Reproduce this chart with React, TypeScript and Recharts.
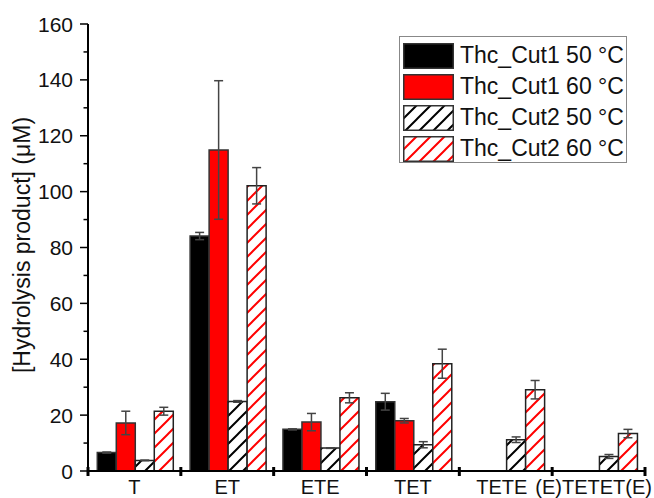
import React from "react";
import { BarChart, Bar, XAxis, YAxis, ErrorBar } from "recharts";

const categories = ["T", "ET", "ETE", "TET", "TETE", "(E)TETET(E)"];

const cut1At50 = [6.6, 84.1, 14.9, 24.8, 0, 0];
const cut1At50Err = [0.2, 1.3, 0.2, 3.0, 0, 0];
const cut1At60 = [17.2, 114.9, 17.5, 18.0, 0, 0];
const cut1At60Err = [4.2, 24.8, 3.1, 0.8, 0, 0];
const cut2At50 = [3.8, 24.9, 8.2, 9.4, 11.2, 5.2];
const cut2At50Err = [0.1, 0.3, 0.1, 1.1, 1.0, 0.7];
const cut2At60 = [21.4, 102.1, 26.2, 38.4, 29.1, 13.4];
const cut2At60Err = [1.4, 6.5, 1.8, 5.2, 3.3, 1.5];

const yTicks = [0, 10, 20, 30, 40, 50, 60, 70, 80, 90, 100, 110, 120, 130, 140, 150, 160];

const legendItems = [
  { label: "Thc_Cut1 50 °C", fill: "#000" },
  { label: "Thc_Cut1 60 °C", fill: "#ff0000" },
  { label: "Thc_Cut2 50 °C", fill: "url(#legBlack)" },
  { label: "Thc_Cut2 60 °C", fill: "url(#legRed)" },
];

const data = categories.map((name, i) => ({
  name,
  c150: cut1At50[i],
  c150e: cut1At50Err[i],
  c160: cut1At60[i],
  c160e: cut1At60Err[i],
  c250: cut2At50[i],
  c250e: cut2At50Err[i],
  c260: cut2At60[i],
  c260e: cut2At60Err[i],
}));

const FONT = 'Arial, "Liberation Sans", sans-serif';

// labels of the last two groups sit a little left of centre in the original
const labelShift = [0, 0, 0, 0, -4, -5];

const hatch = (id: string, color: string) => (
  <pattern id={id} patternUnits="userSpaceOnUse" width={14} height={14}>
    <rect width={14} height={14} fill="#fff" />
    <path
      d="M-3.5,3.5 L3.5,-3.5 M0,14 L14,0 M10.5,17.5 L17.5,10.5"
      stroke={color}
      strokeWidth={2}
    />
  </pattern>
);

const YTick = (props: any) => {
  const { x, y, payload } = props;
  const major = payload.value % 20 === 0;
  return (
    <g>
      <line x1={x - (major ? 8 : 4.5)} x2={x} y1={y} y2={y} stroke="#000" strokeWidth={1.5} />
      {major && (
        <text x={x - 15} y={y} dy={7.5} textAnchor="end" fontSize={21} fill="#111" fontFamily={FONT}>
          {payload.value}
        </text>
      )}
    </g>
  );
};

const XTick = (props: any) => {
  const { x, y, payload, index } = props;
  const half = payload.offset || 46.4;
  const last = index === categories.length - 1;
  return (
    <g>
      <line x1={x - half} x2={x - half} y1={y - 4} y2={y + 5} stroke="#000" strokeWidth={3} />
      {last && (
        <line x1={x + half} x2={x + half} y1={y - 4} y2={y + 5} stroke="#000" strokeWidth={3} />
      )}
      <text
        x={x + (labelShift[index] || 0)}
        y={y + 23}
        textAnchor="middle"
        fontSize={20}
        fill="#111"
        fontFamily={FONT}
      >
        {payload.value}
      </text>
    </g>
  );
};

const YLabel = () => (
  <text
    x={22}
    y={245}
    transform="rotate(-90, 22, 245)"
    textAnchor="middle"
    dominantBaseline="central"
    fontSize={23}
    fill="#111"
    fontFamily={FONT}
  >
    [Hydrolysis product] (μM)
  </text>
);

const Legend = () => (
  <div
    style={{
      position: "absolute",
      left: 399,
      top: 36,
      width: 228,
      height: 127,
      boxSizing: "border-box",
      border: "1px solid #888",
      background: "#fff",
      fontFamily: FONT,
    }}
  >
    <svg width={0} height={0} style={{ position: "absolute" }}>
      <defs>
        {hatch("legBlack", "#000")}
        {hatch("legRed", "#ff0000")}
      </defs>
    </svg>
    {legendItems.map((item, i) => (
      <div
        key={item.label}
        style={{ position: "absolute", left: 3, top: 6 + i * 31, height: 25, display: "flex", alignItems: "center" }}
      >
        <svg width={51} height={26}>
          <rect x={0.75} y={0.75} width={49.5} height={24.5} fill={item.fill} stroke="#333" strokeWidth={1.5} />
        </svg>
        <span style={{ marginLeft: 6, fontSize: 23, color: "#111", whiteSpace: "nowrap", lineHeight: "25px" }}>
          {item.label}
        </span>
      </div>
    ))}
  </div>
);

export default function App() {
  return (
    <div style={{ position: "absolute", left: 0, top: 0, width: 654, height: 498, background: "#fff" }}>
      <BarChart
        width={654}
        height={498}
        data={data}
        margin={{ top: 24, right: 9, bottom: 0, left: 0 }}
        barCategoryGap="10%"
        barGap={0}
      >
        <defs>
          {hatch("hatchBlack", "#000")}
          {hatch("hatchRed", "#ff0000")}
        </defs>
        <XAxis
          dataKey="name"
          height={27}
          tickSize={0}
          tickMargin={0}
          interval={0}
          tickLine={false}
          axisLine={{ stroke: "#000", strokeWidth: 2 }}
          tick={<XTick />}
        />
        <XAxis
          xAxisId="top"
          orientation="top"
          type="number"
          domain={[0, 1]}
          height={0}
          tick={false}
          tickLine={false}
          axisLine={{ stroke: "#000", strokeWidth: 2 }}
        />
        <YAxis
          width={88}
          domain={[0, 160]}
          ticks={yTicks}
          interval={0}
          tickSize={0}
          tickMargin={0}
          tickLine={false}
          axisLine={{ stroke: "#000", strokeWidth: 2 }}
          tick={<YTick />}
          label={{ content: () => <YLabel /> }}
        />
        <YAxis
          yAxisId="right"
          orientation="right"
          domain={[0, 1]}
          width={0}
          tick={false}
          tickLine={false}
          axisLine={{ stroke: "#000", strokeWidth: 2 }}
        />
        <Bar dataKey="c150" fill="#000" stroke="#333" strokeWidth={1.5} isAnimationActive={false}>
          <ErrorBar dataKey="c150e" width={4.5} stroke="#444" strokeWidth={1.5} />
        </Bar>
        <Bar dataKey="c160" fill="#ff0000" stroke="#333" strokeWidth={1.5} isAnimationActive={false}>
          <ErrorBar dataKey="c160e" width={4.5} stroke="#444" strokeWidth={1.5} />
        </Bar>
        <Bar dataKey="c250" fill="url(#hatchBlack)" stroke="#222" strokeWidth={1.5} isAnimationActive={false}>
          <ErrorBar dataKey="c250e" width={4.5} stroke="#444" strokeWidth={1.5} />
        </Bar>
        <Bar dataKey="c260" fill="url(#hatchRed)" stroke="#222" strokeWidth={1.5} isAnimationActive={false}>
          <ErrorBar dataKey="c260e" width={4.5} stroke="#444" strokeWidth={1.5} />
        </Bar>
      </BarChart>
      <Legend />
    </div>
  );
}
